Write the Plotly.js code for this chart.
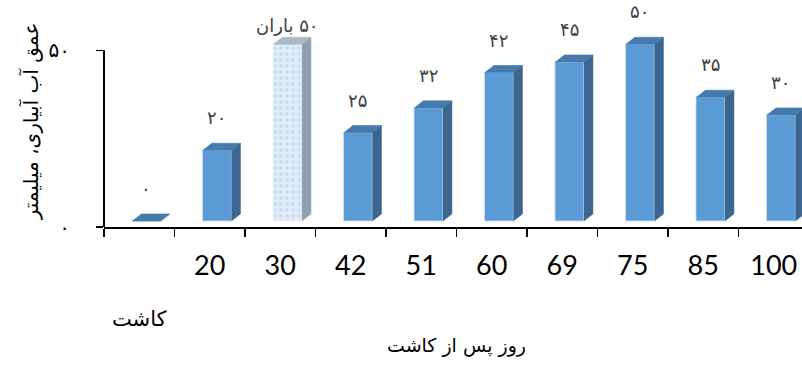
<!DOCTYPE html>
<html>
<head>
<meta charset="utf-8">
<script src="https://cdn.plot.ly/plotly-3.0.1.min.js"></script>
<style>
  html, body { margin: 0; padding: 0; overflow: hidden; background: #fff; }
  #chart { width: 820px; height: 365px; }
</style>
</head>
<body>
<div id="chart"></div>
<script>
// Days after planting (first one is the planting day itself)
const categories = ['کاشت', '20', '30', '42', '51', '60', '69', '75', '85', '100'];
// Water depth applied on each day, mm
const depthMm = [0, 20, 50, 25, 32, 42, 45, 50, 35, 30];
// Extra note next to the value (rain event instead of irrigation)
const notes = ['', '', 'باران', '', '', '', '', '', '', ''];
// Y axis ticks
const yTickVals = [0, 50];

// ---- 3D column look ----
const FLOOR = 1.7;        // front face sits slightly above the axis line
const FRONT_OFF = -0.103; // left edge of the front face relative to the category centre
const FRONT_W = 0.41;     // front face width (category units)
const DX = 0.128;         // depth offset to the right (category units)
const DY = 2.0;           // depth offset upward (value units)
const LABEL_LIFT = 20;
const NOTE_LIFT = 6;

const faFormat = s => String(s).replace(/\d/g, d => '۰۱۲۳۴۵۶۷۸۹'[d]);
const idx = categories.map((_, i) => i);
const isRain = notes.map(n => n !== '');

function faces(filter) {
  const side = { x: [], y: [] }, top = { x: [], y: [] };
  idx.forEach(i => {
    if (!filter(i)) return;
    const v = depthMm[i];
    const xl = i + FRONT_OFF, xr = xl + FRONT_W;
    const yb = FLOOR, yt = FLOOR + v;
    if (v > 0) {
      side.x.push(xr, xr + DX, xr + DX, xr, null);
      side.y.push(yb, yb + DY, yt + DY, yt, null);
    }
    top.x.push(xl, xr, xr + DX, xl + DX, null);
    top.y.push(yt, yt, yt + DY, yt + DY, null);
  });
  return { side, top };
}

const irr = faces(i => !isRain[i]);
const rain = faces(i => isRain[i]);

function polyTrace(pts, color) {
  return {
    type: 'scatter', mode: 'lines', x: pts.x, y: pts.y,
    fill: 'toself', fillcolor: color,
    line: { width: 0.6, color: color }, hoverinfo: 'skip', showlegend: false
  };
}

const traces = [
  {
    type: 'bar',
    x: idx.filter(i => !isRain[i]),
    y: idx.filter(i => !isRain[i]).map(i => depthMm[i]),
    base: FLOOR, width: FRONT_W, offset: FRONT_OFF,
    marker: { color: '#5b9bd5', line: { color: '#cfe0f1', width: 0.8 } },
    hoverinfo: 'skip', showlegend: false
  },
  {
    type: 'bar',
    x: idx.filter(i => isRain[i]),
    y: idx.filter(i => isRain[i]).map(i => depthMm[i]),
    base: FLOOR, width: FRONT_W, offset: FRONT_OFF,
    marker: {
      color: '#dce9f6',
      line: { color: '#eef4fb', width: 0.8 },
      pattern: { shape: '.', fgcolor: '#cbdcee', bgcolor: '#e0ecf8', size: 6, solidity: 0.3 }
    },
    hoverinfo: 'skip', showlegend: false
  },
  polyTrace(irr.side, '#3a6690'),
  polyTrace(irr.top, '#4679ad'),
  polyTrace(rain.side, '#909fb1'),
  polyTrace(rain.top, '#abb8c6')
];

const annotations = idx.map(i => ({
  x: i + FRONT_OFF + FRONT_W / 2,
  y: FLOOR + depthMm[i],
  xref: 'x', yref: 'y',
  text: notes[i] ? notes[i] + '\u200E ' + faFormat(depthMm[i]) : faFormat(depthMm[i]),
  showarrow: false, yanchor: 'bottom', xanchor: 'center',
  yshift: notes[i] ? NOTE_LIFT : LABEL_LIFT,
  font: { family: 'DejaVu Sans', size: 18, color: '#404040' }
}));

const persianFont = { family: 'DejaVu Sans', size: 19, color: '#000' };
const latinFont = { family: 'Lato, "Open Sans", sans-serif', size: 27, color: '#000' };
const xRange = [-0.5, categories.length - 0.5];

const layout = {
  width: 820, height: 365,
  margin: { l: 104, r: 11, t: 15, b: 138 },
  paper_bgcolor: '#fff', plot_bgcolor: '#fff',
  bargap: 0, barmode: 'overlay',
  xaxis: {
    range: xRange, showgrid: false, zeroline: false,
    showline: true, linecolor: '#000', linewidth: 2,
    ticks: 'outside', ticklen: 8, tickwidth: 1.3, tickcolor: '#000',
    tickvals: idx.map(i => i - 0.5).concat([categories.length - 0.5]),
    ticktext: idx.map(() => '').concat(['']),
    title: { text: 'روز پس از کاشت', font: persianFont, standoff: 100 },
    fixedrange: true
  },
  xaxis2: {
    overlaying: 'x', anchor: 'y', side: 'bottom',
    range: xRange, showgrid: false, zeroline: false, showline: false,
    ticks: '', tickvals: idx.slice(1), ticktext: categories.slice(1),
    tickfont: latinFont, ticklabelstandoff: 20, fixedrange: true
  },
  xaxis3: {
    overlaying: 'x', anchor: 'y', side: 'bottom',
    range: xRange, showgrid: false, zeroline: false, showline: false,
    ticks: '', tickvals: [0], ticktext: [categories[0]],
    tickfont: { family: 'DejaVu Sans', size: 21, color: '#000' },
    ticklabelstandoff: 77, fixedrange: true
  },
  yaxis: {
    range: [0, 60], showgrid: false, zeroline: false, showline: false,
    ticks: 'outside', ticklen: 7, tickwidth: 1.3, tickcolor: '#000',
    tickvals: yTickVals, ticktext: yTickVals.map(faFormat),
    tickfont: { family: 'DejaVu Sans', size: 20, color: '#000' },
    ticklabelstandoff: 22,
    title: { text: 'عمق آب آبیاری، میلیمتر', font: { family: 'DejaVu Sans', size: 20, color: '#000' }, standoff: 4 },
    fixedrange: true
  },
  shapes: [{
    type: 'line', xref: 'paper', yref: 'y',
    x0: 0, x1: 0, y0: yTickVals[0], y1: yTickVals[yTickVals.length - 1],
    line: { color: '#000', width: 2 }
  }],
  annotations: annotations,
  showlegend: false
};

// empty traces so the label axes are drawn
traces.push({ type: 'scatter', x: [0], y: [null], xaxis: 'x2', hoverinfo: 'skip', showlegend: false });
traces.push({ type: 'scatter', x: [0], y: [null], xaxis: 'x3', hoverinfo: 'skip', showlegend: false });

Plotly.newPlot('chart', traces, layout, { displayModeBar: false, staticPlot: true });
</script>
</body>
</html>
